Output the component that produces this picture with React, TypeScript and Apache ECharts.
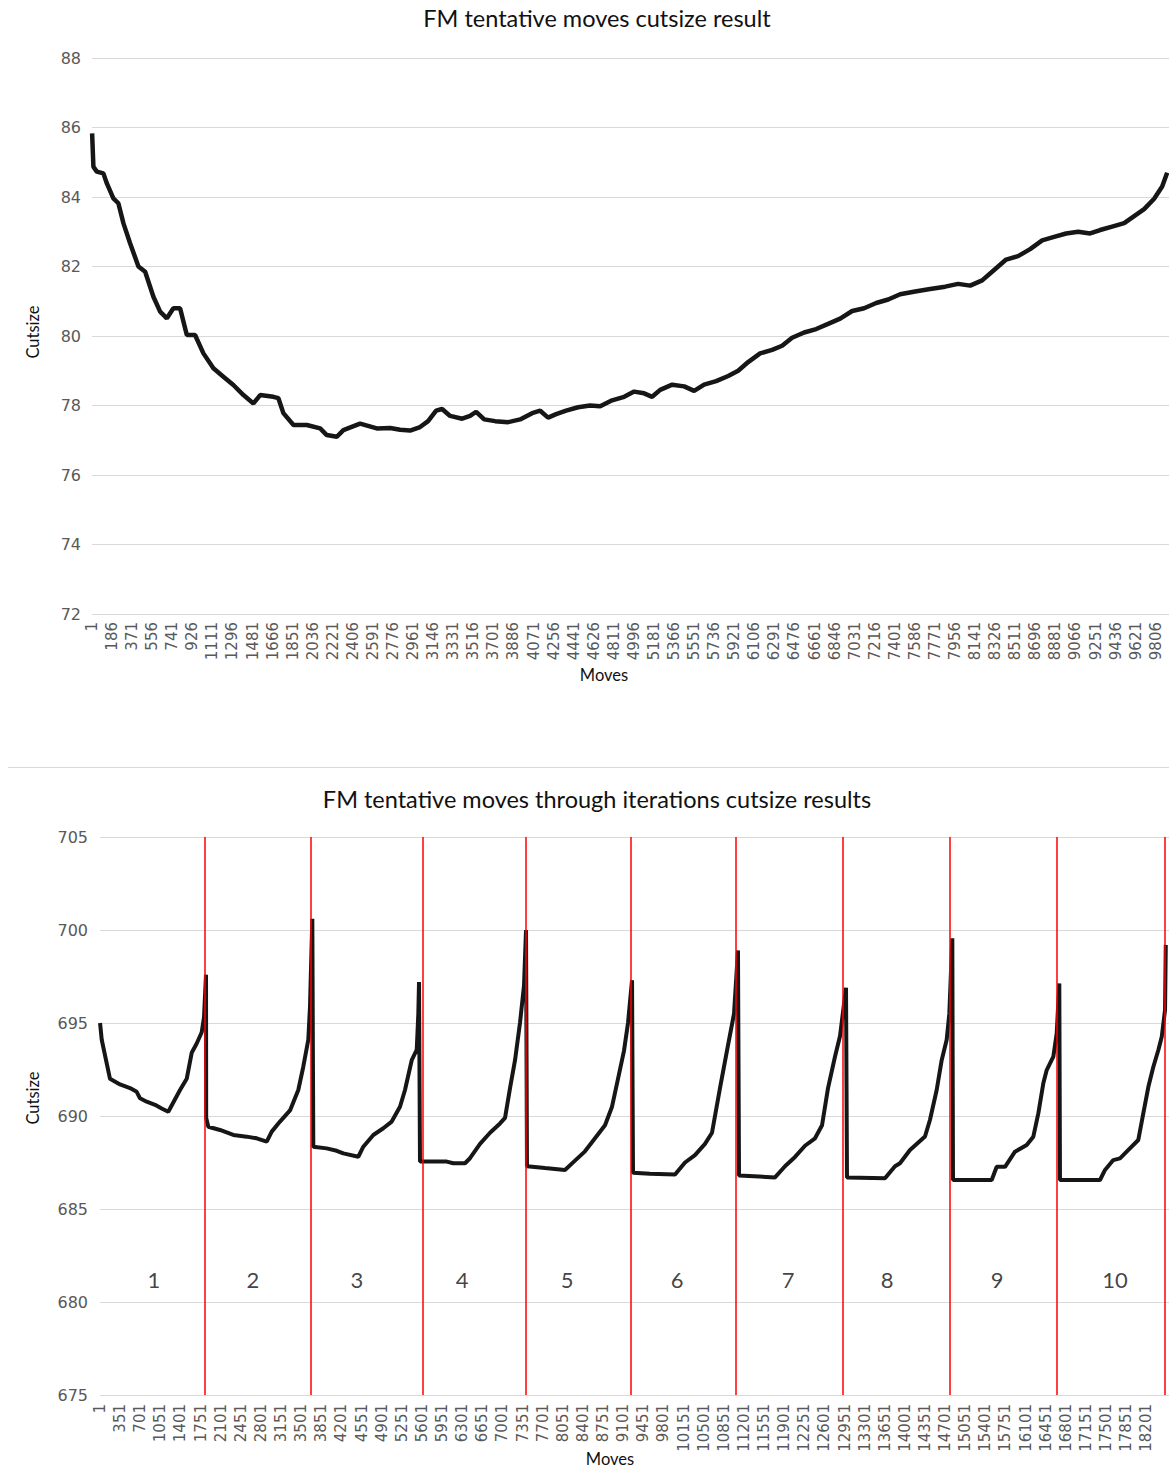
import React, { useEffect, useRef } from "react";
import * as echarts from "echarts";

const title1 = "FM tentative moves cutsize result";
const title2 = "FM tentative moves through iterations cutsize results";
const xName = "Moves";
const yName = "Cutsize";

const ticks1 = [1, 186, 371, 556, 741, 926, 1111, 1296, 1481, 1666, 1851, 2036, 2221, 2406, 2591, 2776, 2961, 3146, 3331, 3516, 3701, 3886, 4071, 4256, 4441, 4626, 4811, 4996, 5181, 5366, 5551, 5736, 5921, 6106, 6291, 6476, 6661, 6846, 7031, 7216, 7401, 7586, 7771, 7956, 8141, 8326, 8511, 8696, 8881, 9066, 9251, 9436, 9621, 9806];
const ticks2 = [1, 351, 701, 1051, 1401, 1751, 2101, 2451, 2801, 3151, 3501, 3851, 4201, 4551, 4901, 5251, 5601, 5951, 6301, 6651, 7001, 7351, 7701, 8051, 8401, 8751, 9101, 9451, 9801, 10151, 10501, 10851, 11201, 11551, 11901, 12251, 12601, 12951, 13301, 13651, 14001, 14351, 14701, 15051, 15401, 15751, 16101, 16451, 16801, 17151, 17501, 17851, 18201];

const moves1 = [1, 13, 44, 105, 137, 197, 243, 290, 351, 428, 490, 566, 628, 690, 750, 812, 874, 950, 1027, 1119, 1211, 1303, 1396, 1488, 1550, 1672, 1718, 1764, 1857, 1980, 2103, 2164, 2257, 2317, 2471, 2625, 2748, 2840, 2932, 3024, 3098, 3172, 3227, 3301, 3412, 3485, 3541, 3615, 3716, 3836, 3946, 4057, 4131, 4204, 4278, 4370, 4481, 4591, 4684, 4794, 4905, 4997, 5089, 5163, 5237, 5348, 5458, 5550, 5642, 5753, 5864, 5956, 6048, 6158, 6269, 6361, 6453, 6564, 6675, 6785, 6896, 7007, 7117, 7228, 7339, 7449, 7587, 7725, 7864, 7983, 8094, 8205, 8315, 8426, 8536, 8647, 8758, 8868, 8979, 9090, 9200, 9292, 9403, 9514, 9606, 9698, 9790, 9864, 9910];
const cut1 = [85.83, 84.87, 84.73, 84.68, 84.39, 83.96, 83.82, 83.24, 82.67, 82.0, 81.85, 81.13, 80.7, 80.51, 80.8, 80.8, 80.03, 80.03, 79.5, 79.07, 78.83, 78.59, 78.3, 78.06, 78.3, 78.25, 78.21, 77.78, 77.44, 77.44, 77.34, 77.15, 77.1, 77.29, 77.48, 77.34, 77.35, 77.3, 77.28, 77.38, 77.55, 77.85, 77.9, 77.7, 77.62, 77.7, 77.82, 77.6, 77.55, 77.52, 77.6, 77.78, 77.85, 77.65, 77.75, 77.85, 77.95, 78.0, 77.98, 78.15, 78.25, 78.4, 78.35, 78.25, 78.45, 78.6, 78.55, 78.42, 78.6, 78.7, 78.85, 79.0, 79.25, 79.5, 79.6, 79.72, 79.95, 80.1, 80.2, 80.35, 80.5, 80.72, 80.8, 80.95, 81.05, 81.2, 81.28, 81.35, 81.42, 81.5, 81.45, 81.6, 81.9, 82.2, 82.3, 82.5, 82.75, 82.85, 82.95, 83.0, 82.95, 83.05, 83.15, 83.25, 83.45, 83.65, 83.95, 84.3, 84.7];

const moves2 = [
  1, 30, 174, 348, 522, 638, 696, 812, 957, 1073, 1188, 1392, 1508, 1595, 1682, 1769, 1809, 1844, 1847, 1884,
  2087, 2319, 2552, 2726, 2900, 2987, 3131, 3305, 3449, 3536, 3623, 3653, 3693, 3710,
  3943, 4117, 4232, 4493, 4580, 4754, 4928, 5074, 5218, 5305, 5422, 5509, 5537, 5549, 5566,
  6031, 6145, 6349, 6436, 6610, 6784, 6958, 7045, 7132, 7219, 7305, 7375, 7410, 7427,
  7740, 8088, 8262, 8436, 8610, 8784, 8906, 9010, 9114, 9184, 9254, 9271,
  9567, 10002, 10176, 10349, 10523, 10645, 10784, 10923, 11028, 11097, 11115,
  11741, 11915, 12089, 12263, 12437, 12559, 12663, 12785, 12872, 12976, 12993,
  13654, 13828, 13915, 14089, 14350, 14437, 14553, 14640, 14727, 14773, 14825, 14837,
  15510, 15597, 15742, 15915, 16119, 16234, 16321, 16408, 16467, 16582, 16641, 16686, 16698,
  17394, 17481, 17625, 17742, 17858, 18060, 18147, 18235, 18322, 18409, 18468, 18525, 18538,
];
const cut2 = [
  695.0, 694.1, 692.0, 691.7, 691.5, 691.3, 690.95, 690.77, 690.6, 690.4, 690.23, 691.4, 692.0, 693.4, 693.9, 694.5, 695.3, 697.6, 689.9, 689.42,
  689.25, 688.98, 688.89, 688.8, 688.62, 689.16, 689.7, 690.3, 691.4, 692.65, 694.1, 695.9, 700.6, 688.35,
  688.26, 688.13, 687.99, 687.81, 688.35, 688.98, 689.34, 689.7, 690.5, 691.4, 693.0, 693.55, 695.5, 697.2, 687.55,
  687.55, 687.46, 687.46, 687.73, 688.5, 689.1, 689.6, 689.9, 691.5, 693.0, 695.0, 697.0, 700.0, 687.3,
  687.2, 687.1, 687.6, 688.1, 688.8, 689.5, 690.5, 692.0, 693.5, 695.0, 697.3, 686.95,
  686.9, 686.85, 687.5, 687.9, 688.5, 689.1, 691.5, 693.8, 695.5, 698.9, 686.8,
  686.7, 687.3, 687.8, 688.4, 688.8, 689.5, 691.5, 693.2, 694.3, 696.9, 686.7,
  686.65, 687.3, 687.46, 688.17, 688.9, 689.8, 691.4, 693.0, 694.1, 695.5, 699.55, 686.56,
  686.56, 687.27, 687.27, 688.08, 688.44, 688.89, 690.14, 691.76, 692.47, 693.19, 694.45, 697.13, 686.56,
  686.56, 687.1, 687.63, 687.72, 688.08, 688.71, 690.14, 691.57, 692.65, 693.55, 694.26, 695.7, 699.2,
];

const boundaries = [1826, 3670, 5618, 7410, 9236, 11063, 12924, 14785, 16646, 18525];
const iterNames = ["1", "2", "3", "4", "5", "6", "7", "8", "9", "10"];
const iterCenters = [939, 2661, 4470, 6297, 8123, 10037, 11967, 13690, 15603, 17655];
const iterLabelY = 681.2;

const tickFont = "'DejaVu Sans', sans-serif";
const textFont = "Lato, 'Noto Sans', sans-serif";
const tickColor = "#595959";
const gridColor = "#d9d9d9";

const fmt = (ticks: number[], step: number) => (v: number) => {
  const i = Math.round(v / step);
  return Math.abs(v - i * step) < 0.5 && i >= 0 && i < ticks.length ? String(ticks[i]) : "";
};

export default function App() {
  const ref = useRef<HTMLDivElement>(null);
  useEffect(() => {
    if (!ref.current) return;
    const chart = echarts.init(ref.current, null, { renderer: "svg" });
    const txt = (text: string, x: number, y: number, size: number, rot = 0) => ({
      type: "text", x, y, rotation: rot,
      style: { text, fontSize: size, fontFamily: textFont, fill: "#111", textAlign: "center", textVerticalAlign: "middle" },
    });
    const option: any = {
      animation: false,
      backgroundColor: "#ffffff",
      grid: [
        { left: 92, top: 58, width: 1077, height: 556 },
        { left: 100, top: 837, width: 1069, height: 558 },
      ],
      xAxis: [
        {
          gridIndex: 0, type: "value", min: 0, max: 9927, interval: 185,
          axisLine: { show: false }, axisTick: { show: false }, splitLine: { show: false },
          axisLabel: { rotate: 90, formatter: fmt(ticks1, 185), fontSize: 15, color: tickColor, fontFamily: tickFont, margin: 8, showMaxLabel: false },
        },
        {
          gridIndex: 1, type: "value", min: 0, max: 18594, interval: 350,
          axisLine: { show: false }, axisTick: { show: false }, splitLine: { show: false },
          axisLabel: { rotate: 90, formatter: fmt(ticks2, 350), fontSize: 15, color: tickColor, fontFamily: tickFont, margin: 9, showMaxLabel: false },
        },
      ],
      yAxis: [
        {
          gridIndex: 0, type: "value", min: 72, max: 88, interval: 2,
          axisLine: { show: false }, axisTick: { show: false },
          splitLine: { show: true, lineStyle: { color: gridColor, width: 1 } },
          axisLabel: { fontSize: 16, color: tickColor, fontFamily: tickFont, margin: 11 },
        },
        {
          gridIndex: 1, type: "value", min: 675, max: 705, interval: 5,
          axisLine: { show: false }, axisTick: { show: false },
          splitLine: { show: true, lineStyle: { color: gridColor, width: 1 } },
          axisLabel: { fontSize: 16, color: tickColor, fontFamily: tickFont, margin: 12 },
        },
      ],
      graphic: [
        txt(title1, 597, 18, 23.5),
        txt(title2, 597, 799, 23.5),
        txt(xName, 604, 675, 16.5),
        txt(xName, 610, 1459, 16.5),
        txt(yName, 33, 332, 16.5, Math.PI / 2),
        txt(yName, 33, 1098, 16.5, Math.PI / 2),
        { type: "line", shape: { x1: 8, y1: 767.5, x2: 1169, y2: 767.5 }, style: { stroke: gridColor, lineWidth: 1 } },
      ],
      series: [
        {
          type: "line", xAxisIndex: 0, yAxisIndex: 0, showSymbol: false, symbol: "none",
          data: moves1.map((m, i) => [m, cut1[i]]),
          lineStyle: { color: "#161616", width: 4.5 },
        },
        {
          type: "line", xAxisIndex: 1, yAxisIndex: 1, showSymbol: false, symbol: "none",
          data: moves2.map((m, i) => [m, cut2[i]]),
          lineStyle: { color: "#161616", width: 4 },
          markLine: {
            silent: true, symbol: ["none", "none"], label: { show: false },
            lineStyle: { color: "#ff0000", width: 1.5, type: "solid" },
            data: boundaries.map((b) => ({ xAxis: b })),
          },
        },
        {
          type: "scatter", xAxisIndex: 1, yAxisIndex: 1, symbolSize: 1,
          itemStyle: { color: "rgba(0,0,0,0)" },
          data: iterCenters.map((c, i) => ({ value: [c, iterLabelY], name: iterNames[i] })),
          label: { show: true, position: "inside", formatter: (p: any) => p.name, fontSize: 22, fontFamily: textFont, color: "#111" },
        },
      ],
    };
    chart.setOption(option);
    return () => chart.dispose();
  }, []);
  return <div ref={ref} style={{ position: "absolute", left: 0, top: 0, width: 1169, height: 1470 }} />;
}
